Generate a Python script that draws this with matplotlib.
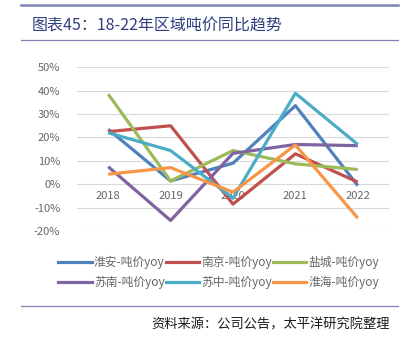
import numpy as np
import matplotlib
matplotlib.use("Agg")
import matplotlib.pyplot as plt
from matplotlib.lines import Line2D

plt.rcParams['font.family'] = ['Noto Sans CJK SC', 'DejaVu Sans']

years = ["2018", "2019", "2020", "2021", "2022"]
huaian = [23.5, 1.4, 9.0, 33.6, -0.6]
nanjing = [22.5, 25.0, -8.5, 13.0, 0.9]
yancheng = [38.5, 1.4, 14.4, 8.7, 6.3]
sunan = [7.5, -15.5, 13.2, 17.0, 16.5]
suzhong = [22.0, 14.4, -6.0, 38.9, 17.0]
huaihai = [4.3, 7.1, -3.4, 16.8, -14.5]

names = ["淮安-吨价yoy", "南京-吨价yoy", "盐城-吨价yoy",
         "苏南-吨价yoy", "苏中-吨价yoy", "淮海-吨价yoy"]
series = [huaian, nanjing, yancheng, sunan, suzhong, huaihai]
colors = ["#4F81BD", "#C0504D", "#9BBB59", "#8064A2", "#4BACC6", "#F79646"]

fig = plt.figure(figsize=(4.05, 3.41), dpi=100)
ax = fig.add_axes([77 / 405, 1 - 231 / 341, (389 - 77) / 405, (231 - 67.3) / 341])

x = np.arange(len(years))
for vals, c, n in zip(series, colors, names):
    ax.plot(x, vals, color=c, lw=2.3, label=n, solid_capstyle='butt')

ax.set_xlim(-0.5, len(years) - 0.5)
ax.set_ylim(-20, 50)
ax.set_yticks(np.arange(-20, 51, 10))
ax.set_yticklabels([f"{v}%" for v in range(-20, 51, 10)])
ax.set_xticks(x)
ax.set_xticklabels(years)
ax.spines['bottom'].set_position(('data', 0))
for s in ax.spines.values():
    s.set_visible(False)
ax.grid(axis='y', color='#d9d9d9', lw=0.8)
ax.set_axisbelow(True)
ax.tick_params(length=0, labelsize=8, colors='#666666')
ax.tick_params(axis='y', pad=12)
ax.tick_params(axis='x', pad=5)

# legend filled row by row like the original
order = [0, 3, 1, 4, 2, 5]
handles = [Line2D([], [], color=colors[i], lw=2.3) for i in order]
labels = [names[i] for i in order]
fig.legend(handles, labels, ncol=3, loc='center', bbox_to_anchor=(0.54, 1 - 272.5 / 341),
           frameon=False, fontsize=8.5, labelcolor='#666666', handlelength=2.8,
           handletextpad=0.2, columnspacing=0.1, labelspacing=0.6)

# header / footer decorations
fig.add_artist(Line2D([21 / 405, 398 / 405], [1 - 5 / 341] * 2, color='#7F83B5', lw=1.8))
fig.add_artist(Line2D([21 / 405, 398 / 405], [1 - 40 / 341] * 2, color='#7F83B5', lw=0.9))
fig.add_artist(Line2D([21 / 405, 398 / 405], [1 - 306 / 341] * 2, color='#7F83B5', lw=0.9))
fig.text(32 / 405, 1 - 26 / 341, "图表45：18-22年区域吨价同比趋势", fontsize=11.5,
         color='#2E3F7F', va='center', ha='left')
fig.text(390 / 405, 1 - 325 / 341, "资料来源：公司公告，太平洋研究院整理", fontsize=9.5,
         color='#1a1a1a', va='center', ha='right', style='italic')

fig.savefig("out.png", dpi=100)
